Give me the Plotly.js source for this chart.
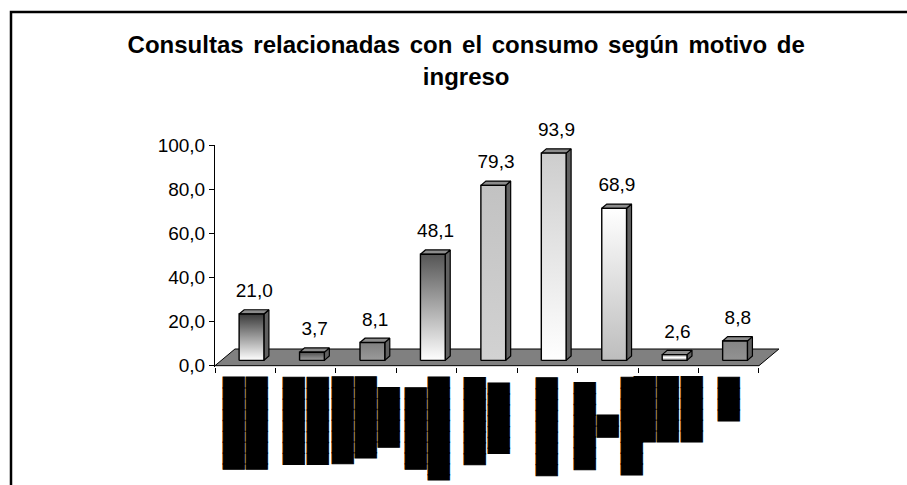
<!DOCTYPE html>
<html><head><meta charset="utf-8">
<script src="https://cdn.plot.ly/plotly-3.0.1.min.js"></script>
<style>
html,body{margin:0;padding:0;background:#fff;overflow:hidden}
.annotation-text{stroke:#000;stroke-width:1px;}
.gtitle{word-spacing:3px;}
</style>
</head><body>
<div id="chart" style="width:907px;height:485px"></div>
<script>
// ---- data ----
const values = [21.0, 3.7, 8.1, 48.1, 79.3, 93.9, 68.9, 2.6, 8.8];
// category labels are rendered as solid glyph boxes in the original (unreadable)
const categoryLabels = [
  '▐████████<br>▐████████',
  '████████<br>████████',
  '████████<br>▐███████<br>▐█████',
  '▐███████<br>▐█████████',
  '████████<br>▐██████',
  '█████████',
  '████████<br>██<br>█████████',
  '██████<br>██████<br>██████',
  '████'
];
const yTicks = [0, 20, 40, 60, 80, 100];
const titleText = 'Consultas relacionadas con el consumo según motivo de<br>ingreso';

// ---- styles ----
const gradients = [
  [[0,'#ffffff'],[1,'#3a3a3a']],
  [[0,'#a0a0a0'],[1,'#505050']],
  [[0,'#9a9a9a'],[1,'#808080']],
  [[0,'#ffffff'],[1,'#555555']],
  [[0,'#d2d2d2'],[1,'#c2c2c2']],
  [[0,'#ffffff'],[1,'#cdcdcd']],
  [[0,'#bdbdbd'],[1,'#ffffff']],
  [[0,'#8a8a8a'],[0.5,'#ffffff'],[1,'#8a8a8a']],
  [[0,'#929292'],[1,'#858585']]
];
const G = {fx:0.104, fy:2.4, bx:0.083, by:1.95, w:0.205, Fx:0.33, Fy:7.55};
const FONT = 'Liberation Sans, Arial, sans-serif';

const n = values.length;
const traces = [];
// floor
traces.push({x:[0, n, n+G.Fx, G.Fx, 0], y:[0, 0, G.Fy, G.Fy, 0], mode:'lines', fill:'toself',
  fillcolor:'#808080', line:{color:'#000', width:1}, hoverinfo:'skip'});
// sides and tops
const sx=[], sy=[], tx=[], ty=[];
values.forEach((v,i)=>{
  const c=i+0.5, L=c+G.fx-G.w, R=c+G.fx+G.w;
  sx.push(R, R+G.bx, R+G.bx, R, R, null);
  sy.push(G.fy, G.fy+G.by, G.fy+v+G.by, G.fy+v, G.fy, null);
  tx.push(L, R, R+G.bx, L+G.bx, L, null);
  ty.push(G.fy+v, G.fy+v, G.fy+v+G.by, G.fy+v+G.by, G.fy+v, null);
});
traces.push({x:sx, y:sy, mode:'lines', fill:'toself', fillcolor:'#606060', line:{color:'#000', width:1.2}, hoverinfo:'skip'});
traces.push({x:tx, y:ty, mode:'lines', fill:'toself', fillcolor:'#8c8c8c', line:{color:'#000', width:1.2}, hoverinfo:'skip'});
// front faces
values.forEach((v,i)=>{
  const c=i+0.5, L=c+G.fx-G.w, R=c+G.fx+G.w;
  traces.push({x:[L, R, R, L, L], y:[G.fy, G.fy, G.fy+v, G.fy+v, G.fy], mode:'lines', fill:'toself',
    fillgradient:{type:'vertical', colorscale:gradients[i]}, line:{color:'#000', width:1.4}, hoverinfo:'skip'});
});
// value labels (anchored at the top-back edge of each bar)
traces.push({x:values.map((v,i)=>i+0.5+0.15), y:values.map(v=>v+G.fy+G.by), mode:'markers+text',
  marker:{size:11, color:'rgba(0,0,0,0)'},
  text:values.map(v=>v.toFixed(1).replace('.', ',')), textposition:'top center',
  textfont:{family:FONT, size:19, color:'#000'}, cliponaxis:false, hoverinfo:'skip'});

const layout = {
  width:907, height:485, margin:{l:215, r:118, t:145, b:118},
  paper_bgcolor:'#fff', plot_bgcolor:'rgba(0,0,0,0)', separators:',.', showlegend:false,
  title:{text:titleText, font:{family:FONT, size:24, color:'#000', weight:700},
    x:0.514, xanchor:'center', y:0.89, yanchor:'top'},
  xaxis:{range:[0, 9.497], showline:false, showgrid:false, zeroline:false, ticks:'outside',
    tickvals:[0,1,2,3,4,5,6,7,8,9], ticklen:5, tickcolor:'#000', tickwidth:1, showticklabels:false, fixedrange:true},
  yaxis:{range:[-0.6, 100], showline:true, linecolor:'#000', linewidth:1, ticks:'outside', ticklen:5,
    tickcolor:'#000', tickvals:yTicks, tickformat:'.1f', tickfont:{family:FONT, size:19, color:'#000'},
    showgrid:false, zeroline:false, fixedrange:true},
  annotations: categoryLabels.map((t,i)=>({x:i+0.5, y:-0.6, xref:'x', yref:'y', text:t, textangle:-90,
    showarrow:false, xanchor:'center', yanchor:'top', yshift:-7, align:'center',
    font:{family:'DejaVu Sans Mono', size:18, color:'#000'}})),
  shapes:[{type:'rect', xref:'paper', yref:'paper', x0:-0.3554, x1:1.25, y0:-0.6, y1:1.599,
    line:{color:'#000', width:2.5}, fillcolor:'rgba(0,0,0,0)'}]
};
Plotly.newPlot('chart', traces, layout, {displayModeBar:false, staticPlot:true});
</script>
</body></html>
